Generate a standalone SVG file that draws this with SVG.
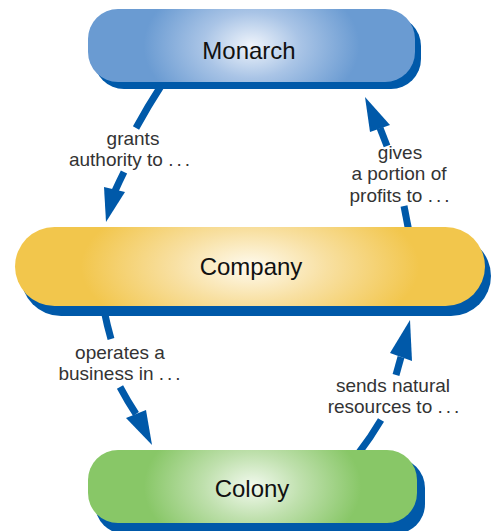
<svg xmlns="http://www.w3.org/2000/svg" width="496" height="531" viewBox="0 0 496 531">
<style>
.shadow{fill:#0059a9}
.conn{fill:none;stroke:#0059a9;stroke-width:7;stroke-linecap:butt}
.head{fill:#0059a9}
.ntext{font-family:"Liberation Sans",Arial,sans-serif;font-size:24px;fill:#111;text-anchor:middle}
.ltext{font-family:"Liberation Sans",Arial,sans-serif;font-size:19px;fill:#333;text-anchor:middle}
</style>
<defs>
<radialGradient id="gBlue" cx="0.5" cy="0.5" r="0.5" gradientTransform="translate(0.5,0.5) scale(0.66,2) translate(-0.5,-0.5)">
<stop offset="0" stop-color="#eff4fb"/><stop offset="0.45" stop-color="#a9c4e6"/><stop offset="1" stop-color="#6a9bd2"/>
</radialGradient>
<radialGradient id="gYellow" cx="0.5" cy="0.5" r="0.5" gradientTransform="translate(0.5,0.5) scale(0.72,2) translate(-0.5,-0.5)">
<stop offset="0" stop-color="#fefaee"/><stop offset="0.45" stop-color="#f8e0a2"/><stop offset="1" stop-color="#f2c64c"/>
</radialGradient>
<radialGradient id="gGreen" cx="0.5" cy="0.5" r="0.5" gradientTransform="translate(0.5,0.5) scale(0.66,2) translate(-0.5,-0.5)">
<stop offset="0" stop-color="#f2f9ee"/><stop offset="0.45" stop-color="#bfe0ad"/><stop offset="1" stop-color="#88c767"/>
</radialGradient>
</defs>
<g id="connectors">
<path class="conn" d="M161,86 Q148,106 136,128"/>
<path class="conn" d="M124,172 Q119,182 115,191"/>
<polygon class="head" points="106,222 104,187 125,192"/>
<path class="conn" d="M380,128 L387,146"/>
<path class="conn" d="M404,206 L409,232"/>
<polygon class="head" points="365,97 370,132 390,125"/>
<path class="conn" d="M104,310 Q107,325 111,339"/>
<path class="conn" d="M120,387 Q128,402 136,414"/>
<polygon class="head" points="152,445 126,418 146,410"/>
<path class="conn" d="M401,357 L396,375"/>
<path class="conn" d="M381,420 Q371,437 358,454"/>
<polygon class="head" points="410,320 390,353 412,361"/>
</g>
<g id="monarch">
<rect class="shadow" x="94" y="16" width="327" height="73" rx="30" ry="30"/>
<rect x="88" y="9" width="327" height="73" rx="30" ry="30" fill="url(#gBlue)"/>
<text class="ntext" x="249" y="59">Monarch</text>
</g>
<g id="company">
<rect class="shadow" x="21" y="236" width="470" height="80" rx="40" ry="40"/>
<rect x="15" y="227" width="470" height="79" rx="39.5" ry="39.5" fill="url(#gYellow)"/>
<text class="ntext" x="251" y="275">Company</text>
</g>
<g id="colony">
<rect class="shadow" x="95" y="458" width="330" height="76" rx="30" ry="30"/>
<rect x="88" y="450" width="329" height="73" rx="30" ry="30" fill="url(#gGreen)"/>
<text class="ntext" x="252" y="497">Colony</text>
</g>
<g id="labels">
<text class="ltext" x="133" y="145">grants</text>
<text class="ltext" x="131" y="166">authority to <tspan letter-spacing="3">...</tspan></text>
<text class="ltext" x="400" y="159">gives</text>
<text class="ltext" x="399" y="180">a portion of</text>
<text class="ltext" x="401" y="202">profits to <tspan letter-spacing="3">...</tspan></text>
<text class="ltext" x="120" y="359">operates a</text>
<text class="ltext" x="121" y="380">business in <tspan letter-spacing="3">...</tspan></text>
<text class="ltext" x="393" y="392">sends natural</text>
<text class="ltext" x="395" y="413">resources to <tspan letter-spacing="3">...</tspan></text>
</g>
</svg>
